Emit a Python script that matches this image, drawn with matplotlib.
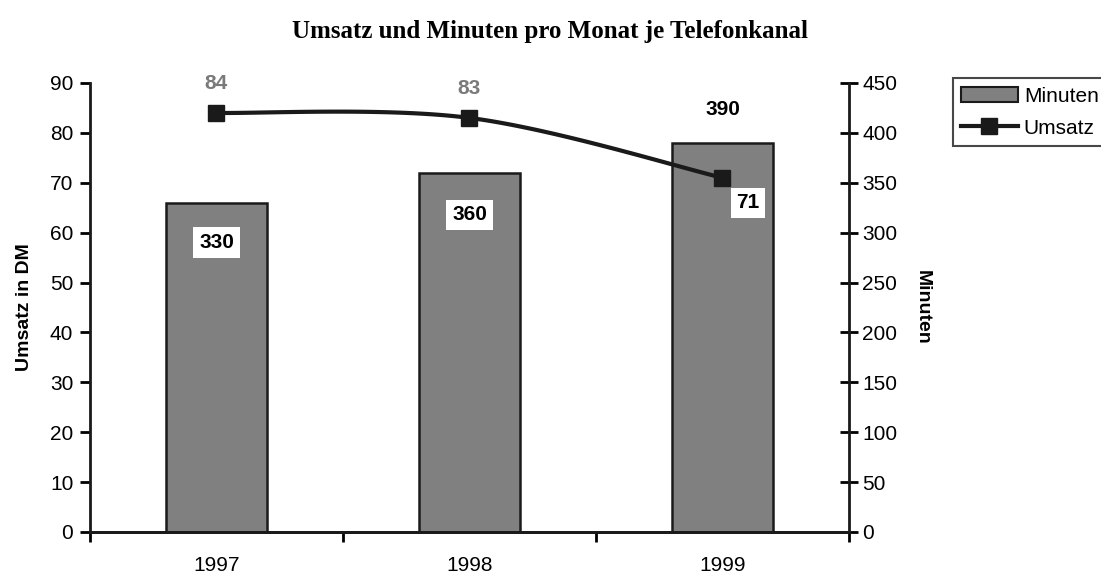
import numpy as np
import matplotlib
matplotlib.use("Agg")
import matplotlib.pyplot as plt
from matplotlib.lines import Line2D
from matplotlib.patches import Patch

years = ["1997", "1998", "1999"]
umsatz = [84, 83, 71]        # DM, left axis
minuten = [330, 360, 390]    # right axis

plt.rcParams['font.family'] = ['Liberation Sans', 'DejaVu Sans']

fig = plt.figure(figsize=(11.01, 5.75), dpi=100)
ax = fig.add_axes([0.0817, 0.0748, 0.6894, 0.7809])
ax2 = ax.twinx()
ax.set_zorder(ax2.get_zorder() + 1)
ax.patch.set_visible(False)

x = np.arange(len(years))

# bars (minutes) on the right axis
bars = ax2.bar(x, minuten, width=0.4, color='#808080', edgecolor='#1a1a1a', linewidth=1.8)

# smoothed line (Catmull-Rom style bezier, like Excel's smooth line)
pts = np.column_stack([x, umsatz]).astype(float)
ext = np.vstack([pts[0], pts, pts[-1]])
t = np.linspace(0, 1, 60)[:, None]
curve = []
for i in range(len(pts) - 1):
    p0, p3 = ext[i + 1], ext[i + 2]
    c1 = p0 + (ext[i + 2] - ext[i]) / 6
    c2 = p3 - (ext[i + 3] - ext[i + 1]) / 6
    seg = (1 - t) ** 3 * p0 + 3 * (1 - t) ** 2 * t * c1 + 3 * (1 - t) * t ** 2 * c2 + t ** 3 * p3
    curve.append(seg)
curve = np.vstack(curve)
ax.plot(curve[:, 0], curve[:, 1], color='#1a1a1a', lw=3, solid_capstyle='round')
ax.plot(x, umsatz, ls='none', marker='s', ms=12, color='#1a1a1a')

# axes setup
ax.set_xlim(-0.5, 2.5)
ax.set_ylim(0, 90)
ax2.set_ylim(0, 450)
ax.set_yticks(np.arange(0, 91, 10))
ax2.set_yticks(np.arange(0, 451, 50))
ax.set_xticks([-0.5, 0.5, 1.5, 2.5])
ax.set_xticklabels([])
ax.set_xticks(x, minor=True)
ax.set_xticklabels(years, minor=True)
ax.tick_params(axis='x', which='major', length=7, width=2, direction='out')
ax.tick_params(axis='x', which='minor', length=0, pad=17, labelsize=15)
ax.tick_params(axis='y', length=7, width=2, direction='out', labelsize=15, pad=5)
ax2.tick_params(axis='y', length=13, width=2, direction='inout', labelsize=15, pad=3)

for a in (ax, ax2):
    a.spines['top'].set_visible(False)
    for s in ('left', 'right', 'bottom'):
        a.spines[s].set_linewidth(2)
        a.spines[s].set_color('#1a1a1a')
ax.spines['right'].set_visible(False)
ax2.spines['left'].set_visible(False)

ax.set_ylabel("Umsatz in DM", fontsize=14, fontweight='bold', labelpad=12)
ax2.set_ylabel("Minuten", fontsize=14, fontweight='bold', rotation=270, labelpad=24)

fig.text(0.5, 0.945, "Umsatz und Minuten pro Monat je Telefonkanal",
         ha='center', va='center', fontsize=18, fontweight='bold', family='Liberation Serif')

# data labels
box = dict(facecolor='white', edgecolor='none', pad=4)
ax2.text(x[0], minuten[0] - 40, str(minuten[0]), ha='center', va='center',
         fontsize=15, fontweight='bold', bbox=box)
ax2.text(x[1], minuten[1] - 42, str(minuten[1]), ha='center', va='center',
         fontsize=15, fontweight='bold', bbox=box)
ax2.text(x[2], minuten[2] + 33, str(minuten[2]), ha='center', va='center',
         fontsize=15, fontweight='bold')
ax.text(x[0], umsatz[0] + 5.8, str(umsatz[0]), ha='center', va='center',
        fontsize=15, fontweight='bold', color='#7a7a7a')
ax.text(x[1], umsatz[1] + 5.8, str(umsatz[1]), ha='center', va='center',
        fontsize=15, fontweight='bold', color='#7a7a7a')
ax.text(x[2] + 0.1, umsatz[2] - 5, str(umsatz[2]), ha='center', va='center',
        fontsize=15, fontweight='bold', bbox=box)

# legend
handles = [Patch(facecolor='#808080', edgecolor='#1a1a1a', linewidth=1.5, label='Minuten'),
           Line2D([0], [0], color='#1a1a1a', lw=3, marker='s', ms=12, label='Umsatz')]
leg = fig.legend(handles=handles, loc='upper left', bbox_to_anchor=(0.8656, 0.864),
                 frameon=True, fancybox=False, fontsize=15, handlelength=2.7,
                 handleheight=0.72, handletextpad=0.3, borderpad=0.4,
                 labelspacing=0.63, borderaxespad=0)
leg.get_frame().set_edgecolor('#1a1a1a')
leg.get_frame().set_linewidth(1.5)

fig.savefig("out.png", dpi=100)
